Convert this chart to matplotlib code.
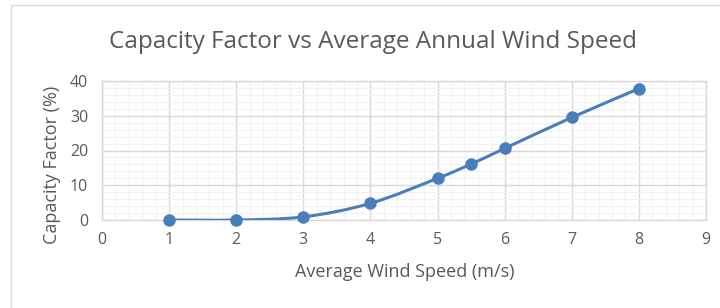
import numpy as np
import matplotlib
matplotlib.use("Agg")
import matplotlib.pyplot as plt
from matplotlib.path import Path
from matplotlib.patches import PathPatch, Rectangle

wind_speed = [1, 2, 3, 4, 5, 5.5, 6, 7, 8]
capacity_factor = [0.0, 0.0, 0.9, 4.8, 12.0, 16.1, 20.6, 29.5, 37.8]
x_ticks = [0, 1, 2, 3, 4, 5, 6, 7, 8, 9]
y_ticks = [0, 10, 20, 30, 40]

title = "Capacity Factor vs Average Annual Wind Speed"
xlabel = "Average Wind Speed (m/s)"
ylabel = "Capacity Factor (%)"

plt.rcParams['font.family'] = ['Open Sans', 'DejaVu Sans']
txt = '#595959'
line_c = '#4a7ebb'

fig = plt.figure(figsize=(7.2, 3.08), dpi=100)
fig.patches.append(Rectangle((11/720, -0.1), 1.0, 1 - 5/308 + 0.1, transform=fig.transFigure,
                             fill=False, edgecolor='#d9d9d9', linewidth=1.0))
ax = fig.add_axes([102/720, 1 - 220/308, (706 - 102)/720, (220 - 81)/308])
ax.set_xlim(0, 9)
ax.set_ylim(0, 40)
ax.set_xticks(x_ticks)
ax.set_yticks(y_ticks)
ax.set_xticks(np.arange(0, 9.01, 0.2), minor=True)
ax.set_yticks(np.arange(0, 40.01, 2), minor=True)
ax.grid(which='minor', color='#f2f2f2', linewidth=0.9)
ax.grid(which='major', color='#d9d9d9', linewidth=1.0)
ax.set_axisbelow(True)
for s in ax.spines.values():
    s.set_color('#d9d9d9')
    s.set_linewidth(1.0)
ax.tick_params(which='both', length=0, colors=txt, labelsize=11.5)
ax.tick_params(axis='x', pad=9)
ax.tick_params(axis='y', pad=10)

# smooth curve (Catmull-Rom as Bezier segments)
xs = np.array(wind_speed, float)
ys = np.array(capacity_factor, float)
pts = np.column_stack([xs, ys])
verts = [pts[0]]
codes = [Path.MOVETO]
n = len(pts)
for i in range(n - 1):
    p0 = pts[i - 1] if i > 0 else pts[i]
    p1 = pts[i]
    p2 = pts[i + 1]
    p3 = pts[i + 2] if i + 2 < n else pts[i + 1]
    c1 = p1 + (p2 - p0) / 6.0
    c2 = p2 - (p3 - p1) / 6.0
    verts += [c1, c2, p2]
    codes += [Path.CURVE4] * 3
ax.add_patch(PathPatch(Path(verts, codes), facecolor='none', edgecolor=line_c, linewidth=2.2,
                       capstyle='round', zorder=3))
ax.plot(xs, ys, linestyle='none', marker='o', markersize=8, color=line_c, zorder=4, clip_on=False)

fig.text(373/720, 1 - 42/308, title, ha='center', va='center', fontsize=17.5, color=txt)
fig.text(405/720, 1 - 272/308, xlabel, ha='center', va='center', fontsize=13, color=txt)
fig.text(52/720, 1 - 165/308, ylabel, ha='center', va='center', rotation=90, fontsize=13, color=txt)

fig.savefig('out.png', dpi=100)
